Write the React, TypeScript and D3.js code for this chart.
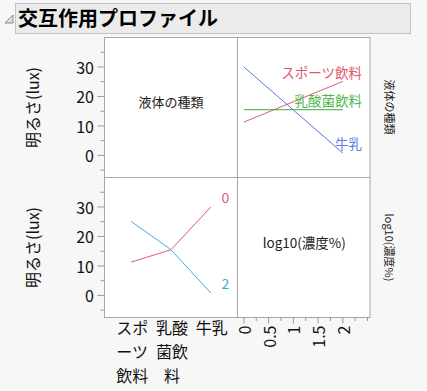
import React from "react";
import * as d3 from "d3";

const W = 427;
const H = 391;

const liquids = ["スポーツ飲料", "乳酸菌飲料", "牛乳"];
const liquidTickLines = [["スポ", "ーツ", "飲料"], ["乳酸", "菌飲", "料"], ["牛乳"]];
const concLevels = [0, 2];
// brightness at conc 0 and conc 2 for each liquid
const brightAt0 = [11.3, 15.5, 30.0];
const brightAt2 = [25.1, 15.5, 0.8];
const yTicks = [0, 10, 20, 30];
const yMinor = [-5, 5, 15, 25, 35];
const xTicks = [0, 0.5, 1, 1.5, 2];
const xMinor = [0.25, 0.75, 1.25, 1.75, 2.25, 2.5];

const liquidLineColors = ["#e05a70", "#3ea63e", "#5078e0"];
const liquidTextColors = ["#e0566c", "#4cb84c", "#5a80e2"];
const concLineColors = ["#e05a70", "#40b0d4"];
const concTextColors = ["#e0647a", "#3aaed2"];

const FONT = "'Noto Sans CJK JP', 'Noto Sans', sans-serif";

export default function App() {
  const x0 = 104.5, xm = 237.5, x1 = 370;
  const y0 = 37.5, ym = 177.5, y1 = 317.5;

  const yTop = d3.scaleLinear().domain([-7.5, 40]).range([ym, y0]);
  const yBot = d3.scaleLinear().domain([-7.5, 40]).range([y1, ym]);
  const xConc = d3.scaleLinear().domain([-0.13, 2.55]).range([xm, x1]);
  const xCat = d3.scalePoint<string>().domain(liquids).range([x0, xm]).padding(0.67);

  const line = d3.line<[number, number]>().x((d) => d[0]).y((d) => d[1]);

  const yAxis = (ys: d3.ScaleLinear<number, number>, key: string) => (
    <g key={key}>
      {yTicks.map((t) => (
        <g key={t}>
          <line x1={x0 - 7} x2={x0} y1={ys(t)} y2={ys(t)} stroke="#999" />
          <text x={94} y={ys(t)} textAnchor="end" dominantBaseline="central" fontSize={16} fill="#111">
            {t}
          </text>
        </g>
      ))}
      {yMinor.map((t) => (
        <line key={"m" + t} x1={x0 - 4} x2={x0} y1={ys(t)} y2={ys(t)} stroke="#999" />
      ))}
    </g>
  );

  return (
    <svg width={W} height={H} style={{ position: "absolute", left: 0, top: 0, fontFamily: FONT }}>
      <rect x={0} y={0} width={W} height={H} fill="#f7f7f7" />
      {/* title */}
      <path d="M5,23 L13,23 L13,15 Z" fill="#e0e0e0" stroke="#8a8a8a" strokeWidth={1} />
      <rect x={15.5} y={3.5} width={395} height={30} fill="#ebebeb" stroke="#c4c4c4" />
      <text x={18} y={26} fontSize={20} fontWeight="bold" fill="#000">交互作用プロファイル</text>

      {/* panels */}
      <rect x={x0} y={y0} width={x1 - x0} height={y1 - y0} fill="#fff" stroke="#a8a8a8" />
      <line x1={xm} x2={xm} y1={y0} y2={y1} stroke="#a8a8a8" />
      <line x1={x0} x2={x1} y1={ym} y2={ym} stroke="#a8a8a8" />

      {/* y axes */}
      {yAxis(yTop, "top")}
      {yAxis(yBot, "bot")}
      <text transform={`translate(39,${(y0 + ym) / 2}) rotate(-90)`} textAnchor="middle" fontSize={16} fill="#111">
        明るさ(lux)
      </text>
      <text transform={`translate(39,${(ym + y1) / 2}) rotate(-90)`} textAnchor="middle" fontSize={16} fill="#111">
        明るさ(lux)
      </text>

      {/* diagonal labels */}
      <text x={(x0 + xm) / 2} y={101} textAnchor="middle" dominantBaseline="central" fontSize={13} fill="#222">
        液体の種類
      </text>
      <text x={(xm + x1) / 2 + 0.5} y={241.5} textAnchor="middle" dominantBaseline="central" fontSize={13.5} fill="#222">
        log10(濃度%)
      </text>

      {/* top-right: lines per liquid across concentration */}
      {liquids.map((liq, i) => (
        <path
          key={liq}
          d={line([
            [xConc(concLevels[0]), yTop(brightAt0[i])],
            [xConc(concLevels[1]), yTop(brightAt2[i])],
          ]) || ""}
          stroke={liquidLineColors[i]}
          strokeWidth={1}
          fill="none"
        />
      ))}
      {liquids.map((liq, i) => (
        <text
          key={"t" + liq}
          x={362}
          y={[71.5, 100, 143][i]}
          textAnchor="end"
          dominantBaseline="central"
          fontSize={13.5}
          fill={liquidTextColors[i]}
        >
          {liq}
        </text>
      ))}

      {/* bottom-left: lines per concentration across liquid */}
      {concLevels.map((c, j) => (
        <path
          key={"c" + c}
          d={line(
            liquids.map((liq, i) => [xCat(liq) as number, yBot(j === 0 ? brightAt0[i] : brightAt2[i])])
          ) || ""}
          stroke={concLineColors[j]}
          strokeWidth={1}
          fill="none"
        />
      ))}
      {concLevels.map((c, j) => (
        <text
          key={"ct" + c}
          x={225.5}
          y={[196.5, 282.5][j]}
          textAnchor="middle"
          dominantBaseline="central"
          fontSize={14}
          fill={concTextColors[j]}
        >
          {c}
        </text>
      ))}

      {/* bottom-left categorical x axis */}
      {liquids.map((liq, i) => (
        <text key={"xl" + liq} textAnchor="middle" fontSize={16} fill="#111">
          {liquidTickLines[i].map((s, k) => (
            <tspan key={k} x={(xCat(liq) as number) + 1} y={334 + k * 24}>
              {s}
            </tspan>
          ))}
        </text>
      ))}

      {/* bottom-right numeric x axis */}
      {xTicks.map((t) => (
        <g key={"xt" + t}>
          <line x1={xConc(t)} x2={xConc(t)} y1={y1} y2={y1 + 6} stroke="#999" />
          <text
            transform={`translate(${xConc(t)},${y1 + 8}) rotate(-90)`}
            textAnchor="end"
            dominantBaseline="central"
            fontSize={16}
            fill="#111"
          >
            {t}
          </text>
        </g>
      ))}
      {xMinor.map((t) => (
        <line key={"xm" + t} x1={xConc(t)} x2={xConc(t)} y1={y1} y2={y1 + 3.5} stroke="#999" />
      ))}

      {/* right side row labels */}
      <text transform={`translate(390,${(y0 + ym) / 2 + 37.5 - 37.5 + 36.5 - 36.5 - 0.5}) rotate(90)`} textAnchor="middle" dominantBaseline="central" fontSize={11} fill="#222">
        液体の種類
      </text>
      <text transform={`translate(390,${(ym + y1) / 2}) rotate(90)`} textAnchor="middle" dominantBaseline="central" fontSize={11} fill="#222">
        log10(濃度%)
      </text>
    </svg>
  );
}
